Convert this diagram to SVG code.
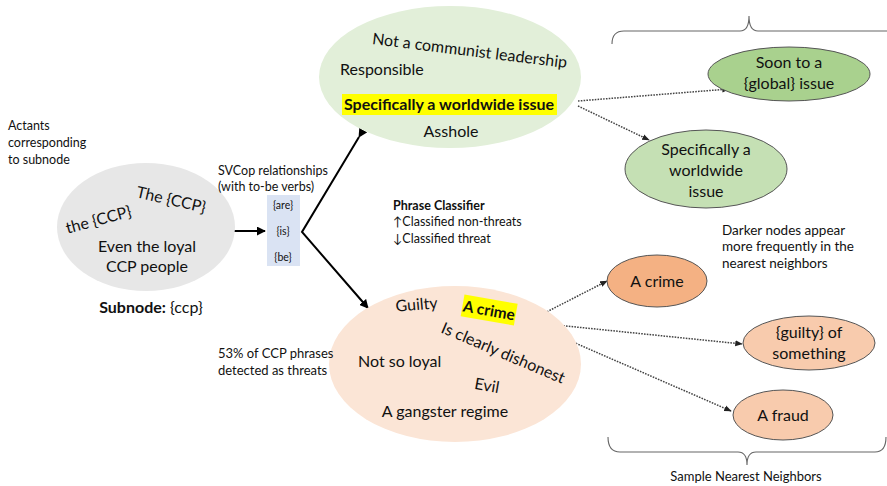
<svg xmlns="http://www.w3.org/2000/svg" width="887" height="486" viewBox="0 0 887 486">
<style>
text{font-family:Lato,"Liberation Sans",sans-serif;fill:#111}
.s{font-size:12.5px}
.m{font-size:16px}
.n{font-size:16px;text-anchor:middle}
.b{font-weight:bold}
.c{text-anchor:middle}
.solid{stroke:#000;stroke-width:2;fill:none}
.dot{stroke:#444;stroke-width:1.5;stroke-dasharray:1.6 1.2;fill:none}
.node{stroke:#555;stroke-width:1}
.br{stroke:#666;stroke-width:1.1;fill:none}
</style>
<defs>
<marker id="ah" viewBox="0 0 10 10" refX="9" refY="5" markerWidth="4.5" markerHeight="4.5" orient="auto"><path d="M0,0L10,5L0,10z" fill="#000"/></marker>
<marker id="ad" viewBox="0 0 10 10" refX="9" refY="5" markerWidth="5" markerHeight="5" orient="auto"><path d="M0,1L10,5L0,9z" fill="#222"/></marker>
</defs>

<g id="connectors">
<line class="solid" x1="230" y1="231" x2="265" y2="231" marker-end="url(#ah)"/>
<path class="solid" d="M359,137 L302,232 L368,308" marker-start="url(#ah)" marker-end="url(#ah)"/>
<line class="dot" x1="578" y1="101" x2="729" y2="89" marker-end="url(#ad)"/>
<line class="dot" x1="578" y1="106" x2="649" y2="140" marker-end="url(#ad)"/>
<line class="dot" x1="527" y1="322" x2="607" y2="281" marker-end="url(#ad)"/>
<line class="dot" x1="527" y1="322" x2="742" y2="344" marker-end="url(#ad)"/>
<line class="dot" x1="527" y1="322" x2="731" y2="411" marker-end="url(#ad)"/>
</g>

<g id="subnode">
<ellipse cx="146" cy="227" rx="89" ry="64" fill="#e7e7e7"/>
<text class="m c" transform="translate(170,205) rotate(13)">The {CCP}</text>
<text class="m c" transform="translate(100,225) rotate(-15)">the {CCP}</text>
<text class="m c" x="147" y="252">Even the loyal</text>
<text class="m c" x="147" y="272">CCP people</text>
<text class="m c" x="151" y="313"><tspan class="b">Subnode:</tspan> {ccp}</text>
</g>

<g id="actants-label">
<text class="s" x="8" y="130">Actants</text>
<text class="s" x="8" y="147">corresponding</text>
<text class="s" x="8" y="164">to subnode</text>
</g>

<g id="svcop">
<text class="s" x="218" y="175">SVCop relationships</text>
<text class="s" x="218" y="191">(with to-be verbs)</text>
<rect x="267" y="195" width="33" height="71" fill="#dae3f3"/>
<text class="c" style="font-size:10.5px" x="283" y="209">{are}</text>
<text class="c" style="font-size:10.5px" x="283" y="235">{is}</text>
<text class="c" style="font-size:10.5px" x="283" y="261">{be}</text>
</g>

<g id="classifier">
<text class="s b" x="393" y="210">Phrase Classifier</text>
<text class="s" x="393" y="226">↑Classified non-threats</text>
<text class="s" x="393" y="243">↓Classified threat</text>
</g>

<g id="nonthreat">
<ellipse cx="450" cy="77" rx="131" ry="71" fill="#e2efd9"/>
<text class="m c" transform="translate(469,56) rotate(7)">Not a communist leadership</text>
<text class="m" x="340" y="75">Responsible</text>
<rect x="342" y="94" width="215" height="21" fill="#ffff00"/>
<text class="m c b" x="449" y="110">Specifically a worldwide issue</text>
<text class="m c" x="451" y="137">Asshole</text>
</g>

<g id="threat">
<ellipse cx="455" cy="364" rx="126" ry="78" fill="#fbe5d6"/>
<text class="m c" transform="translate(417,310) rotate(-5)">Guilty</text>
<g transform="translate(489,311) rotate(10)">
<rect x="-27" y="-12" width="54" height="22" fill="#ffff00"/>
<text class="c b" style="font-size:15.5px" x="0" y="5">A crime</text>
</g>
<text class="m c" transform="translate(501,358) rotate(23)">Is clearly dishonest</text>
<text class="m" x="358" y="367">Not so loyal</text>
<text class="m c" transform="translate(486,391) rotate(10)">Evil</text>
<text class="m c" x="445" y="417">A gangster regime</text>
</g>

<g id="threat-label">
<text class="s" x="218" y="358" style="font-size:13px">53% of CCP phrases</text>
<text class="s" x="218" y="375" style="font-size:13px">detected as threats</text>
</g>

<g id="brackets">
<path class="br" d="M612,44 Q612,31 624,31 L740,31 Q749,31 749,16 Q749,31 758,31 L887,31"/>
<path class="br" d="M608,437 Q608,452 620,452 L738,452 Q747,452 747,465 Q747,452 756,452 L875,452 Q886,452 886,437"/>
<text class="s c" x="746" y="481" style="font-size:13px">Sample Nearest Neighbors</text>
</g>

<g id="nn-global">
<ellipse class="node" cx="789" cy="74" rx="81" ry="27" fill="#a9d18e"/>
<text class="n" x="789" y="68">Soon to a</text>
<text class="n" x="789" y="89">{global} issue</text>
</g>

<g id="nn-worldwide">
<ellipse class="node" cx="706" cy="169" rx="81" ry="39" fill="#c5e0b4"/>
<text class="n" x="706" y="155">Specifically a</text>
<text class="n" x="706" y="176">worldwide</text>
<text class="n" x="706" y="197">issue</text>
</g>

<g id="legend">
<text class="s" x="722" y="235" style="font-size:13.5px">Darker nodes appear</text>
<text class="s" x="722" y="251" style="font-size:13.5px">more frequently in the</text>
<text class="s" x="722" y="268" style="font-size:13.5px">nearest neighbors</text>
</g>

<g id="nn-crime">
<ellipse class="node" cx="657" cy="281" rx="50" ry="26" fill="#f4b183"/>
<text class="n" x="657" y="287">A crime</text>
</g>

<g id="nn-guilty">
<ellipse class="node" cx="809" cy="343" rx="66" ry="27" fill="#f8cbad"/>
<text class="n" x="809" y="338">{guilty} of</text>
<text class="n" x="809" y="359">something</text>
</g>

<g id="nn-fraud">
<ellipse class="node" cx="783" cy="415" rx="50" ry="25" fill="#f8cbad"/>
<text class="n" x="783" y="421">A fraud</text>
</g>
</svg>
